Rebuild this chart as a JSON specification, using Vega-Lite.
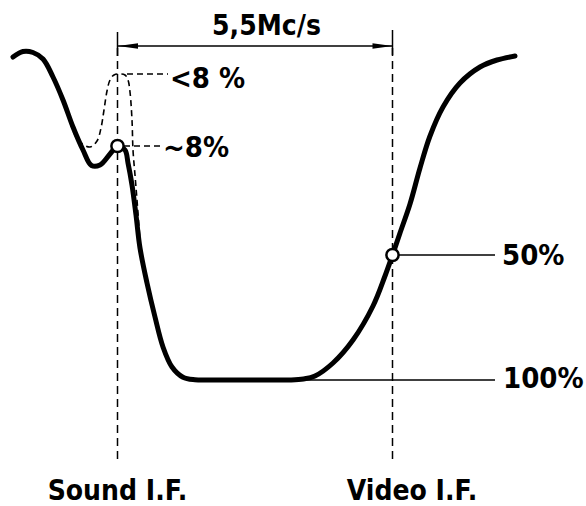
{
  "$schema": "https://vega.github.io/schema/vega-lite/v6.json",
  "width": 586,
  "height": 506,
  "padding": 0,
  "autosize": {"type": "fit", "contains": "padding"},
  "background": "white",
  "config": {"view": {"stroke": null}},
  "datasets": {
    "response": [
      {"mhz": -2.09, "level": -29.2}, {"mhz": -1.89, "level": -31.4}, {"mhz": -1.69, "level": -31.0},
      {"mhz": -1.49, "level": -28.4}, {"mhz": -1.29, "level": -21.2}, {"mhz": -1.09, "level": -12},
      {"mhz": -0.89, "level": -1.2}, {"mhz": -0.69, "level": 8}, {"mhz": -0.52, "level": 14.2},
      {"mhz": -0.35, "level": 14}, {"mhz": -0.15, "level": 9.6}, {"mhz": 0, "level": 6.4},
      {"mhz": 0.15, "level": 8}, {"mhz": 0.21, "level": 13.2}, {"mhz": 0.29, "level": 22},
      {"mhz": 0.37, "level": 34}, {"mhz": 0.45, "level": 47.2}, {"mhz": 0.59, "level": 61.2},
      {"mhz": 0.75, "level": 74.8}, {"mhz": 0.91, "level": 86.8}, {"mhz": 1.09, "level": 94.8},
      {"mhz": 1.31, "level": 98.9}, {"mhz": 1.55, "level": 99.9}, {"mhz": 1.85, "level": 100},
      {"mhz": 2.25, "level": 100}, {"mhz": 2.65, "level": 100}, {"mhz": 3.05, "level": 100},
      {"mhz": 3.45, "level": 100}, {"mhz": 3.72, "level": 99.6}, {"mhz": 3.95, "level": 98.4},
      {"mhz": 4.31, "level": 93.2},
      {"mhz": 4.71, "level": 84}, {"mhz": 5.11, "level": 70.4}, {"mhz": 5.35, "level": 58.4},
      {"mhz": 5.5, "level": 50}, {"mhz": 5.65, "level": 41.2}, {"mhz": 5.85, "level": 29.6},
      {"mhz": 6.05, "level": 15.2}, {"mhz": 6.25, "level": 2.4}, {"mhz": 6.51, "level": -9.2},
      {"mhz": 6.85, "level": -18.8}, {"mhz": 7.25, "level": -25.2}, {"mhz": 7.59, "level": -28},
      {"mhz": 7.95, "level": -29.6}
    ],
    "trap": [
      {"mhz": -0.95, "level": -3.2}, {"mhz": -0.79, "level": 4}, {"mhz": -0.55, "level": 6.8},
      {"mhz": -0.41, "level": 4.4}, {"mhz": -0.33, "level": -0.8}, {"mhz": -0.27, "level": -8},
      {"mhz": -0.21, "level": -15.6}, {"mhz": -0.15, "level": -20}, {"mhz": -0.07, "level": -22},
      {"mhz": 0.05, "level": -22.4}, {"mhz": 0.15, "level": -22}, {"mhz": 0.21, "level": -20},
      {"mhz": 0.25, "level": -15.2}, {"mhz": 0.29, "level": -4}, {"mhz": 0.31, "level": 8},
      {"mhz": 0.35, "level": 18}, {"mhz": 0.39, "level": 28}, {"mhz": 0.45, "level": 44}
    ],
    "carriers": [
      {"mhz": 0, "level": -32.8, "level2": 133.2},
      {"mhz": 5.5, "level": -32.8, "level2": 133.2}
    ],
    "ticks": [
      {"mhz": 0, "level": -39.2, "level2": -29.6},
      {"mhz": 5.5, "level": -40, "level2": -30}
    ],
    "span": [{"mhz": 0, "mhz2": 5.5, "level": -33.6}],
    "heads": [
      {"mhz": 0.21, "level": -33.6, "dir": "left"},
      {"mhz": 5.3, "level": -33.6, "dir": "right"}
    ],
    "dashedLeaders": [
      {"mhz": 0.19, "mhz2": 1.01, "level": -22.4},
      {"mhz": 0.13, "mhz2": 0.89, "level": 6.4}
    ],
    "solidLeaders": [
      {"mhz": 5.61, "mhz2": 7.55, "level": 50},
      {"mhz": 3.65, "mhz2": 7.55, "level": 100}
    ],
    "markers": [
      {"mhz": 0, "level": 6.4},
      {"mhz": 5.5, "level": 50}
    ],
    "leftLabels": [
      {"mhz": 1.05, "level": -16.8, "label": "<8 %"},
      {"mhz": 0.91, "level": 10.8, "label": "~8%"},
      {"mhz": 7.69, "level": 54, "label": "50%"},
      {"mhz": 7.71, "level": 103.2, "label": "100%"}
    ],
    "centerLabels": [
      {"mhz": 2.98, "level": -38, "label": "5,5Mc/s"},
      {"mhz": 0, "level": 148, "label": "Sound I.F."},
      {"mhz": 5.89, "level": 148, "label": "Video I.F."}
    ]
  },
  "encoding": {
    "x": {"field": "mhz", "type": "quantitative", "axis": null,
          "scale": {"domain": [-2.35, 9.37], "nice": false, "zero": false}},
    "y": {"field": "level", "type": "quantitative", "axis": null,
          "scale": {"domain": [-52, 150.4], "nice": false, "zero": false, "reverse": true}}
  },
  "layer": [
    {
      "data": {"name": "carriers"},
      "mark": {"type": "rule", "color": "black", "strokeWidth": 1.5, "strokeDash": [8, 5]},
      "encoding": {"y2": {"field": "level2"}}
    },
    {
      "data": {"name": "ticks"},
      "mark": {"type": "rule", "color": "black", "strokeWidth": 1.5},
      "encoding": {"y2": {"field": "level2"}}
    },
    {
      "data": {"name": "span"},
      "mark": {"type": "rule", "color": "black", "strokeWidth": 1.5},
      "encoding": {"x2": {"field": "mhz2"}}
    },
    {
      "data": {"name": "heads"},
      "transform": [{"filter": "datum.dir === 'left'"}],
      "mark": {"type": "point", "shape": "M-1,0L1,-0.28L1,0.28Z", "size": 400, "filled": true, "color": "black", "opacity": 1}
    },
    {
      "data": {"name": "heads"},
      "transform": [{"filter": "datum.dir === 'right'"}],
      "mark": {"type": "point", "shape": "M1,0L-1,-0.28L-1,0.28Z", "size": 400, "filled": true, "color": "black", "opacity": 1}
    },
    {
      "data": {"name": "dashedLeaders"},
      "mark": {"type": "rule", "color": "black", "strokeWidth": 1.5, "strokeDash": [6, 4]},
      "encoding": {"x2": {"field": "mhz2"}}
    },
    {
      "data": {"name": "solidLeaders"},
      "mark": {"type": "rule", "color": "black", "strokeWidth": 1.5},
      "encoding": {"x2": {"field": "mhz2"}}
    },
    {
      "data": {"name": "trap"},
      "mark": {"type": "line", "color": "black", "strokeWidth": 1.6, "strokeDash": [6, 4], "interpolate": "catmull-rom"}
    },
    {
      "data": {"name": "response"},
      "mark": {"type": "line", "color": "black", "strokeWidth": 5, "strokeCap": "round", "strokeJoin": "round", "interpolate": "catmull-rom"}
    },
    {
      "data": {"name": "markers"},
      "mark": {"type": "point", "shape": "circle", "size": 150, "filled": true, "fill": "white", "stroke": "black", "strokeWidth": 2.5, "opacity": 1}
    },
    {
      "data": {"name": "leftLabels"},
      "mark": {"type": "text", "align": "left", "baseline": "alphabetic", "font": "DejaVu Sans Condensed, DejaVu Sans", "fontWeight": "bold", "fontSize": 29, "color": "black"},
      "encoding": {"text": {"field": "label"}}
    },
    {
      "data": {"name": "centerLabels"},
      "mark": {"type": "text", "align": "center", "baseline": "alphabetic", "font": "DejaVu Sans Condensed, DejaVu Sans", "fontWeight": "bold", "fontSize": 28, "color": "black"},
      "encoding": {"text": {"field": "label"}}
    }
  ]
}
